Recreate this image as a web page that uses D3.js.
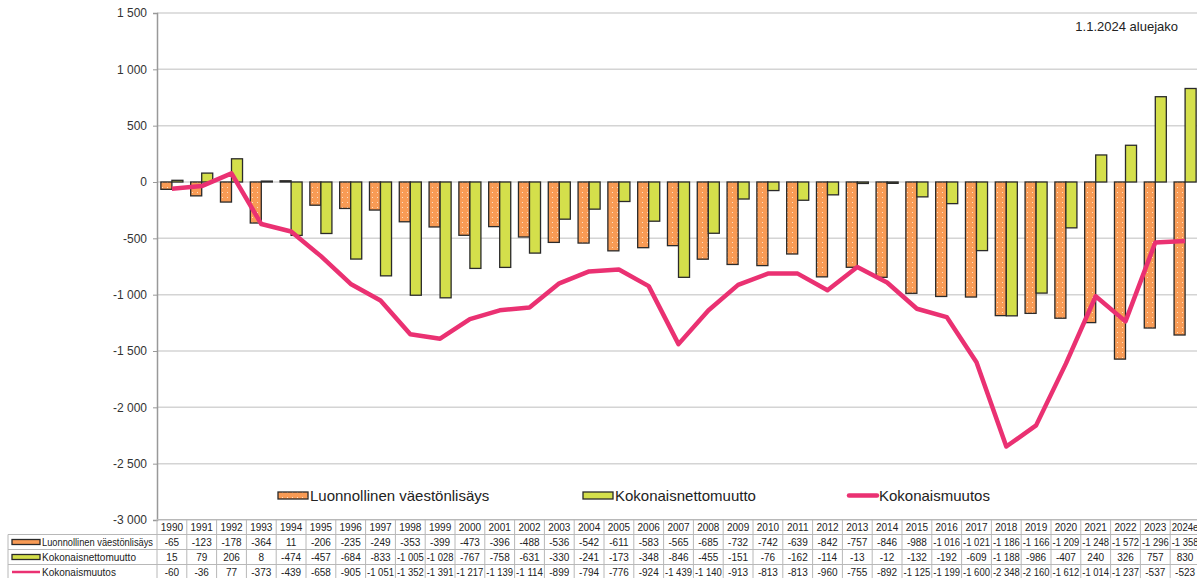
<html>
<head>
  <script src="https://d3js.org/d3.v7.min.js"></script>
  <style>
    body { margin: 0; background: #fff; font-family: "Liberation Sans", Arial, sans-serif; }
    .grid line { stroke: #d4d4d4; stroke-width: 1.5; }
    .axis text { font-size: 12px; fill: #333; }
    .tbl text { font-size: 10px; fill: #222; }
  </style>
</head>
<body>
  <div id="plot"></div>
  <script>
    var years = ["1990","1991","1992","1993","1994","1995","1996","1997","1998","1999",
                 "2000","2001","2002","2003","2004","2005","2006","2007","2008","2009",
                 "2010","2011","2012","2013","2014","2015","2016","2017","2018","2019",
                 "2020","2021","2022","2023","2024e"];
    var luonnollinen = [-65,-123,-178,-364,11,-206,-235,-249,-353,-399,
                        -473,-396,-488,-536,-542,-611,-583,-565,-685,-732,
                        -742,-639,-842,-757,-846,-988,-1016,-1021,-1186,-1166,
                        -1209,-1248,-1572,-1296,-1358];
    var nettomuutto = [15,79,206,8,-474,-457,-684,-833,-1005,-1028,
                       -767,-758,-631,-330,-241,-173,-348,-846,-455,-151,
                       -76,-162,-114,-13,-12,-132,-192,-609,-1188,-986,
                       -407,240,326,757,830];
    var kokonais = [-60,-36,77,-373,-439,-658,-905,-1051,-1352,-1391,
                    -1217,-1139,-1114,-899,-794,-776,-924,-1439,-1140,-913,
                    -813,-813,-960,-755,-892,-1125,-1199,-1600,-2348,-2160,
                    -1612,-1014,-1237,-537,-523];
    var yTicks = [1500,1000,500,0,-500,-1000,-1500,-2000,-2500,-3000];
    var seriesNames = ["Luonnollinen väestönlisäys", "Kokonaisnettomuutto", "Kokonaismuutos"];

    var W = 1197, H = 578;
    var plotL = 157, plotR = 1200, plotT = 13, plotB = 520;
    var orange = "#f89b55", green = "#d4df4b", pink = "#ea3172";

    var svg = d3.select("#plot").append("svg")
      .attr("width", W).attr("height", H);

    // dotted fill for natural increase bars
    var pat = svg.append("defs").append("pattern")
      .attr("id", "dots").attr("width", 5).attr("height", 5)
      .attr("patternUnits", "userSpaceOnUse");
    pat.append("rect").attr("width", 5).attr("height", 5).attr("fill", orange);
    pat.append("rect").attr("x", 2).attr("y", 2).attr("width", 1).attr("height", 1)
      .attr("fill", "#fde0c4");

    var x0 = d3.scaleBand().domain(years).range([plotL, plotR])
      .paddingInner(0.26).paddingOuter(0.13);
    var x1 = d3.scaleBand().domain([0, 1]).range([0, x0.bandwidth()]);
    var y = d3.scaleLinear().domain([-3000, 1500]).range([plotB, plotT]);

    function fmt(v) { return d3.format(",")(v).replace(/,/g, " ").replace("−", "-"); }

    // gridlines
    svg.append("g").attr("class", "grid")
      .selectAll("line").data(yTicks).enter().append("line")
      .attr("x1", plotL).attr("x2", W)
      .attr("y1", function(d) { return y(d); }).attr("y2", function(d) { return y(d); });

    // y axis
    var yAxis = d3.axisLeft(y).tickValues(yTicks).tickSize(4).tickPadding(6)
      .tickFormat(fmt);
    var ga = svg.append("g").attr("class", "axis")
      .attr("transform", "translate(" + plotL + ",0)").call(yAxis);
    ga.select(".domain").attr("stroke", "#999").attr("stroke-width", 1.5);
    ga.selectAll(".tick line").attr("stroke", "#999");

    // bars
    var g = svg.append("g");
    years.forEach(function(yr, i) {
      [luonnollinen[i], nettomuutto[i]].forEach(function(v, k) {
        g.append("rect")
          .attr("x", x0(yr) + x1(k))
          .attr("width", x1.bandwidth())
          .attr("y", y(Math.max(0, v)))
          .attr("height", Math.abs(y(v) - y(0)))
          .attr("fill", k === 0 ? "url(#dots)" : green)
          .attr("stroke", "#2a2a2a").attr("stroke-width", 1.3);
      });
    });

    // total change line
    var line = d3.line()
      .x(function(d, i) { return x0(years[i]) + x0.bandwidth() / 2; })
      .y(function(d) { return y(d); });
    svg.append("path").attr("d", line(kokonais))
      .attr("fill", "none").attr("stroke", pink).attr("stroke-width", 4.5)
      .attr("stroke-linejoin", "round");

    // annotation
    svg.append("text").attr("x", 1178).attr("y", 31).attr("text-anchor", "end")
      .style("font-size", "13px").attr("fill", "#222").text("1.1.2024 aluejako");

    // legend
    var leg = svg.append("g").style("font-size", "15px");
    var legX = [278, 583, 847];
    legX.forEach(function(lx, k) {
      if (k < 2) {
        leg.append("rect").attr("x", lx).attr("y", 492).attr("width", 30).attr("height", 7)
          .attr("fill", k === 0 ? "url(#dots)" : green)
          .attr("stroke", "#2a2a2a").attr("stroke-width", 1.3);
      } else {
        leg.append("line").attr("x1", lx + 2).attr("x2", lx + 30).attr("y1", 495.5).attr("y2", 495.5)
          .attr("stroke", pink).attr("stroke-width", 4.5).attr("stroke-linecap", "round");
      }
      leg.append("text").attr("x", lx + 32).attr("y", 501).attr("fill", "#222").text(seriesNames[k]);
    });

    // data table
    var tbl = svg.append("g").attr("class", "tbl");
    var rowH = 15, tTop = 519.5;
    var rows = [luonnollinen, nettomuutto, kokonais];
    var step = x0.step();
    var colL = function(i) { return plotL + i * step; };

    // borders
    var bc = "#b8b8b8";
    for (var r = 0; r <= 4; r++) {
      var yy = tTop + r * rowH;
      tbl.append("line").attr("x1", r === 0 ? plotL : 8).attr("x2", W)
        .attr("y1", yy).attr("y2", yy).attr("stroke", bc);
    }
    tbl.append("line").attr("x1", 8).attr("x2", 8).attr("y1", tTop + rowH).attr("y2", H)
      .attr("stroke", bc);
    for (var c = 0; c <= years.length; c++) {
      tbl.append("line").attr("x1", colL(c)).attr("x2", colL(c))
        .attr("y1", tTop).attr("y2", H).attr("stroke", bc);
    }

    function cell(txt, cx, cy) {
      var t = tbl.append("text").attr("x", cx).attr("y", cy)
        .attr("text-anchor", "middle").text(txt);
      var w = t.node().getComputedTextLength();
      if (w > step - 3) t.attr("textLength", step - 3).attr("lengthAdjust", "spacingAndGlyphs");
    }

    years.forEach(function(yr, i) {
      cell(yr, colL(i) + step / 2, tTop + rowH / 2 + 3.5);
      rows.forEach(function(arr, r) {
        cell(fmt(arr[i]), colL(i) + step / 2, tTop + (r + 1) * rowH + rowH / 2 + 3.5);
      });
    });

    seriesNames.forEach(function(nm, r) {
      var cy = tTop + (r + 1) * rowH + rowH / 2;
      if (r < 2) {
        tbl.append("rect").attr("x", 12).attr("y", cy - 2.5).attr("width", 28).attr("height", 5)
          .attr("fill", r === 0 ? orange : green).attr("stroke", "#2a2a2a").attr("stroke-width", 1.3);
      } else {
        tbl.append("line").attr("x1", 12).attr("x2", 40).attr("y1", cy).attr("y2", cy)
          .attr("stroke", pink).attr("stroke-width", 2.5);
      }
      var t = tbl.append("text").attr("x", 42).attr("y", cy + 3.5).text(nm);
      var maxW = plotL - 46;
      if (t.node().getComputedTextLength() > maxW)
        t.attr("textLength", maxW).attr("lengthAdjust", "spacingAndGlyphs");
    });
  </script>
</body>
</html>
